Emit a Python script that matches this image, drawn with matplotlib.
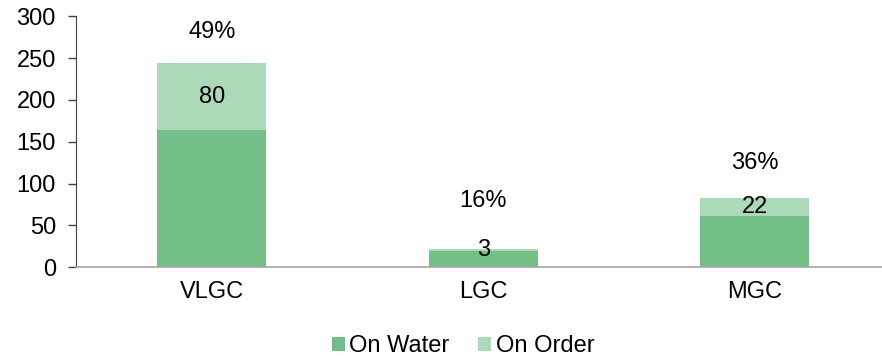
import numpy as np
import matplotlib.pyplot as plt

plt.rcParams['font.family'] = ['Liberation Sans', 'DejaVu Sans']

# data
categories = ['VLGC', 'LGC', 'MGC']
on_water = [164, 19, 61]
on_order = [80, 3, 22]
pct_labels = ['49%', '16%', '36%']
pct_label_y = [281, 79, 125]   # where the % labels sit, in data units

dark_green = '#74bf87'
light_green = '#acd9b8'
fs = 17

fig = plt.figure(figsize=(8.82, 3.58), dpi=100)
ax = fig.add_axes([76 / 882, 91 / 358, 806 / 882, 250.5 / 358])

x = np.arange(len(categories))
w = 0.4
ax.bar(x, on_water, w, color=dark_green, label='On Water')
ax.bar(x, on_order, w, bottom=on_water, color=light_green, label='On Order')

# numbers inside the on-order segment, % above the bar
for i in range(len(categories)):
    ax.text(x[i], on_water[i] + on_order[i] / 2, str(on_order[i]),
            ha='center', va='center', fontsize=fs, color='black')
    ax.text(x[i], pct_label_y[i], pct_labels[i],
            ha='center', va='center', fontsize=fs, color='black')

ax.set_xlim(-0.5, -0.5 + 806 / 271.5)
ax.set_ylim(0, 300)
ax.set_yticks(range(0, 301, 50))
ax.set_xticks(x)
ax.set_xticklabels(categories)
ax.tick_params(axis='y', length=5.5, width=1, color='#404040', labelsize=fs, pad=9)
ax.tick_params(axis='x', length=0, labelsize=fs, pad=10)

ax.spines['top'].set_visible(False)
ax.spines['right'].set_visible(False)
ax.spines['left'].set_color('#404040')
ax.spines['bottom'].set_color('#a6a6a6')
ax.spines['bottom'].set_linewidth(1.2)

ax.legend(loc='center', bbox_to_anchor=(463 / 882, 12 / 358),
          bbox_transform=fig.transFigure, ncol=2, frameon=False,
          fontsize=fs, handlelength=0.55, handleheight=0.55,
          handletextpad=0.2, columnspacing=1.2)

fig.savefig('out.png', dpi=100)
